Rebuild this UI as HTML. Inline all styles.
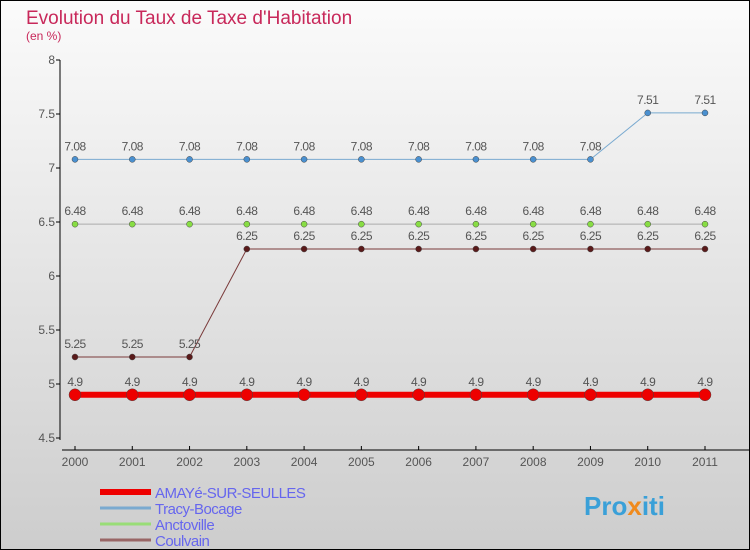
<!DOCTYPE html>
<html><head><meta charset="utf-8"><style>
body{margin:0}
#c{width:750px;height:550px;position:relative;overflow:hidden;font-family:"Liberation Sans",sans-serif}
</style></head><body>
<div id="c">
<svg id="s" width="750" height="550" xmlns="http://www.w3.org/2000/svg">
<defs><linearGradient id="bg" x1="0" y1="0" x2="0" y2="1"><stop offset="0" stop-color="#fbfbfb"/><stop offset="1" stop-color="#cdcdcd"/></linearGradient></defs>
<rect x="0.5" y="0.5" width="749" height="549" fill="url(#bg)" stroke="#000"/>
<text x="26" y="24" font-size="19" fill="#c8285a">Evolution du Taux de Taxe d'Habitation</text>
<text x="26" y="40" font-size="12" fill="#c8285a">(en %)</text>
<g id="axes"></g><g id="marks"></g>
<text x="584" y="515" font-size="26" font-weight="bold" fill="#3aa0d8">Pro<tspan fill="#f08a1c">x</tspan>iti</text>
</svg>
</div>
<script>
const years=[2000,2001,2002,2003,2004,2005,2006,2007,2008,2009,2010,2011];
const yTicks=[4.5,5,5.5,6,6.5,7,7.5,8];
const amaye=[4.9,4.9,4.9,4.9,4.9,4.9,4.9,4.9,4.9,4.9,4.9,4.9];
const tracy=[7.08,7.08,7.08,7.08,7.08,7.08,7.08,7.08,7.08,7.08,7.51,7.51];
const anctoville=[6.48,6.48,6.48,6.48,6.48,6.48,6.48,6.48,6.48,6.48,6.48,6.48];
const coulvain=[5.25,5.25,5.25,6.25,6.25,6.25,6.25,6.25,6.25,6.25,6.25,6.25];
const NS="http://www.w3.org/2000/svg";
const X=i=>75+i*(630/11);
const Y=v=>60+(8-v)*108;
function mk(t,a,p){const e=document.createElementNS(NS,t);for(const k in a)e.setAttribute(k,a[k]);(p||document.getElementById('marks')).appendChild(e);return e;}
const ax=document.getElementById('axes');
let e=mk('line',{x1:60,y1:60,x2:60,y2:440,stroke:'#000'},ax);


e=mk('line',{x1:62,y1:450,x2:750,y2:450,stroke:'#000'},ax);


yTicks.forEach(v=>{mk('line',{x1:56,y1:Y(v),x2:60,y2:Y(v),stroke:'#000'},ax);
const t=mk('text',{x:55,y:Y(v)+4,'font-size':12,fill:'#555','text-anchor':'end'},ax);t.textContent=v;

});
years.forEach((y,i)=>{mk('line',{x1:X(i),y1:446,x2:X(i),y2:450,stroke:'#000'},ax);
const t=mk('text',{x:X(i),y:466,'font-size':12,fill:'#555','text-anchor':'middle'},ax);t.textContent=y;

});
function series(d,col,pt,w,r,name){
const p=mk('polyline',{points:d.map((v,i)=>X(i)+','+Y(v)).join(' '),fill:'none',stroke:col,'stroke-width':w});


d.forEach((v,i)=>{const c=mk('circle',{cx:X(i),cy:Y(v),r:r,fill:pt,stroke:'#444','stroke-width':0.5});


const t=mk('text',{x:X(i),y:Y(v)-9,'font-size':12,fill:'#555','text-anchor':'middle','letter-spacing':'-0.5'});t.textContent=v;

});}
series(anctoville,'#aaaaaa','#88dd44',1,3,'anctoville');
series(coulvain,'#7a3a3a','#5a1a1a',1,3,'coulvain');
series(tracy,'#7aaad0','#4a90d0',1,3,'tracy-bocage');
series(amaye,'#ee0000','#ee0000',6,6,'amaye');
const leg=[['AMAYé-SUR-SEULLES','#ee0000',6],['Tracy-Bocage','#7aaad0',3],['Anctoville','#99dd77',3],['Coulvain','#996666',3]];
leg.forEach((l,i)=>{const y=492+i*16;
const g=mk('g',{});


mk('line',{x1:100,y1:y,x2:151,y2:y,stroke:l[1],'stroke-width':l[2]},g);
const t=mk('text',{x:155,y:y+6,'font-size':15,fill:'#6666ee','letter-spacing':'-0.5'},g);t.textContent=l[0];});
</script>
</body></html>
